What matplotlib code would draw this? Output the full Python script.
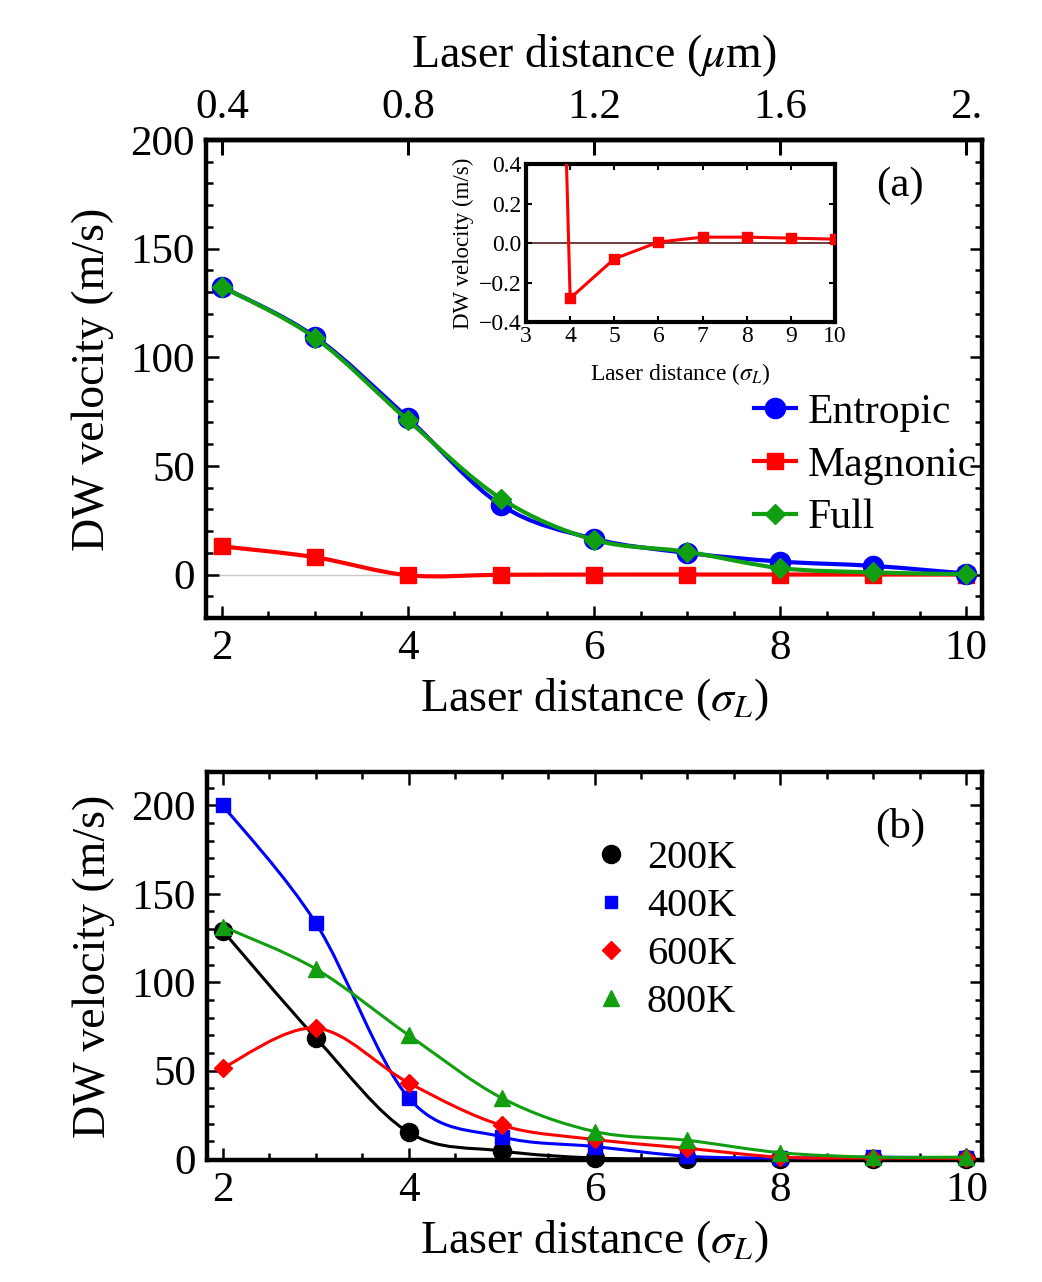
import numpy as np
import matplotlib
matplotlib.use("Agg")
import matplotlib.pyplot as plt
from matplotlib.path import Path
from matplotlib.patches import PathPatch
from matplotlib.lines import Line2D

plt.rcParams['font.family'] = ['Liberation Serif', 'DejaVu Serif']
plt.rcParams['mathtext.fontset'] = 'stix'

# ---- data: panel (a) ----
dist = [2, 3, 4, 5, 6, 7, 8, 9, 10]
entropic = [132.5, 109.5, 72, 32, 16.5, 10, 6, 4, 0.5]
magnonic = [13, 8, -0.28, -0.08, 0.005, 0.03, 0.03, 0.025, 0.02]
full = [132.5, 109, 71, 35, 16, 10.5, 3, 1, 0.2]

# ---- data: panel (b) ----
temps = ['200K', '400K', '600K', '800K']
v200 = [129, 68.5, 15, 4.5, 0.5, 0, 0, 0, 0]
v400 = [200, 133.5, 34.5, 12.5, 7, 1.5, 0.5, 1, 0.5]
v600 = [51.5, 74, 43, 19, 11, 6, 1, 0.5, 0.3]
v800 = [131.5, 107.5, 70, 34.5, 15.5, 10.5, 3.5, 1, 1]

top_ticks = [0.4, 0.8, 1.2, 1.6, 2.0]
top_labels = ['0.4', '0.8', '1.2', '1.6', '2.']

blue, red, green, black = '#0000ff', '#ff0000', '#119f11', '#000000'


def smooth(ax, x, y, color, lw, z):
    # Catmull-Rom curve through the points, drawn as cubic Bezier segments
    p = np.column_stack([x, y]).astype(float)
    n = len(p)
    verts = [p[0]]
    codes = [Path.MOVETO]
    for i in range(n - 1):
        p0 = p[max(i - 1, 0)]
        p1 = p[i]
        p2 = p[i + 1]
        p3 = p[min(i + 2, n - 1)]
        verts += [p1 + (p2 - p0) / 6, p2 - (p3 - p1) / 6, p2]
        codes += [Path.CURVE4] * 3
    ax.add_patch(PathPatch(Path(verts, codes), fill=False, ec=color, lw=lw,
                           zorder=z, capstyle='round', joinstyle='round'))


def frame(ax, lw=3.2):
    for s in ax.spines.values():
        s.set_linewidth(lw)
    ax.tick_params(which='both', direction='in', top=True, right=True,
                   width=1.8, labelsize=31, pad=8)
    ax.tick_params(which='major', length=9)
    ax.tick_params(which='minor', length=5)


fig = plt.figure(figsize=(10.42, 12.82), dpi=100)

# ---------- panel (a) ----------
ax1 = fig.add_axes([0.1977, 0.5179, 0.7447, 0.3729])
ax1.axhline(0, color='#c8c8c8', lw=1.0, zorder=1)
smooth(ax1, dist, magnonic, red, 3.0, 2)
ax1.plot(dist, magnonic, ls='none', marker='s', ms=11, color=red, zorder=3)
smooth(ax1, dist, entropic, blue, 3.0, 4)
ax1.plot(dist, entropic, ls='none', marker='o', ms=14.5, color=blue, zorder=5)
smooth(ax1, dist, full, green, 3.0, 6)
ax1.plot(dist, full, ls='none', marker='D', ms=10.5, color=green, zorder=7)
ax1.set_xlim(1.83, 10.17)
ax1.set_ylim(-20, 200)
ax1.set_xticks([2, 4, 6, 8, 10])
ax1.set_xticks(np.arange(2, 10.01, 0.5), minor=True)
ax1.set_yticks([0, 50, 100, 150, 200])
ax1.set_yticks(np.arange(-20, 201, 10), minor=True)
frame(ax1)
ax1.tick_params(top=False, which='both')
ax1.set_xlabel(r'Laser distance ($\sigma_L$)', fontsize=33, labelpad=6)
ax1.set_ylabel('DW velocity (m/s)', fontsize=33, labelpad=12)
ax1.text(0.894, 0.905, '(a)', transform=ax1.transAxes, fontsize=31,
         ha='center', va='center')

top = ax1.secondary_xaxis('top', functions=(lambda v: 0.2 * v, lambda v: v / 0.2))
top.set_xticks(top_ticks)
top.set_xticklabels(top_labels)
top.tick_params(direction='in', length=11, width=2.2, labelsize=31, pad=9)
top.spines['top'].set_linewidth(3.2)
top.set_xlabel(r'Laser distance ($\mu$m)', fontsize=33, labelpad=16)

handles = [Line2D([], [], color=blue, lw=3, marker='o', ms=14.5),
           Line2D([], [], color=red, lw=3, marker='s', ms=11),
           Line2D([], [], color=green, lw=3, marker='D', ms=10.5)]
ax1.legend(handles, ['Entropic', 'Magnonic', 'Full'], loc='upper left',
           bbox_to_anchor=(0.706, 0.47), frameon=False, fontsize=30,
           handlelength=1.0, handletextpad=0.3, labelspacing=0.34,
           borderpad=0, borderaxespad=0)

# ---------- inset ----------
axi = fig.add_axes([0.5048, 0.7488, 0.2965, 0.1232])
axi.axhline(0, color='#551a1a', lw=1.2, zorder=1)
axi.plot(dist, magnonic, color=red, lw=2.2, marker='s', ms=6.5, zorder=3,
         clip_on=True)
axi.set_xlim(3, 10)
axi.set_ylim(-0.4, 0.4)
axi.set_xticks(range(3, 11))
axi.set_yticks([-0.4, -0.2, 0.0, 0.2, 0.4])
axi.set_yticklabels(['\u22120.4', '\u22120.2', '0.0', '0.2', '0.4'])
for s in axi.spines.values():
    s.set_linewidth(3.0)
axi.tick_params(direction='in', top=True, right=True, length=4, width=1.5,
                labelsize=17, pad=3)
axi.set_xlabel(r'Laser distance ($\sigma_L$)', fontsize=17, labelpad=10)
axi.set_ylabel('DW velocity (m/s)', fontsize=16.5, labelpad=4)

# ---------- panel (b) ----------
ax2 = fig.add_axes([0.1987, 0.0952, 0.7438, 0.3027])
series_b = [(v200, black, 'o', 13, 2.2), (v400, blue, 's', 9.5, 2.2),
            (v600, red, 'D', 9.5, 2.2), (v800, green, '^', 11, 2.2)]
for k, (vals, c, m, ms, lw) in enumerate(series_b):
    smooth(ax2, dist, vals, c, lw, 2 + 2 * k)
    ax2.plot(dist, vals, ls='none', marker=m, ms=ms, color=c, zorder=3 + 2 * k,
             label=temps[k], clip_on=False)
ax2.set_xlim(1.83, 10.17)
ax2.set_ylim(-0.6, 219)
ax2.set_xticks([2, 4, 6, 8, 10])
ax2.set_xticks(np.arange(2, 10.01, 0.5), minor=True)
ax2.set_yticks([0, 50, 100, 150, 200])
ax2.set_yticks(np.arange(0, 219, 10), minor=True)
frame(ax2)
ax2.set_xlabel(r'Laser distance ($\sigma_L$)', fontsize=33, labelpad=6)
ax2.set_ylabel('DW velocity (m/s)', fontsize=33, labelpad=12)
ax2.text(0.894, 0.858, '(b)', transform=ax2.transAxes, fontsize=31,
         ha='center', va='center')
lb = [Line2D([], [], ls='none', marker='o', ms=13, color=black),
      Line2D([], [], ls='none', marker='s', ms=8, color=blue),
      Line2D([], [], ls='none', marker='D', ms=9, color=red),
      Line2D([], [], ls='none', marker='^', ms=11, color=green)]
ax2.legend(lb, temps, loc='upper left', bbox_to_anchor=(0.5, 0.826),
           frameon=False, fontsize=29, handlelength=0.8, handletextpad=0.5,
           labelspacing=0.27, borderpad=0, borderaxespad=0)

fig.savefig('out.png', dpi=100)
